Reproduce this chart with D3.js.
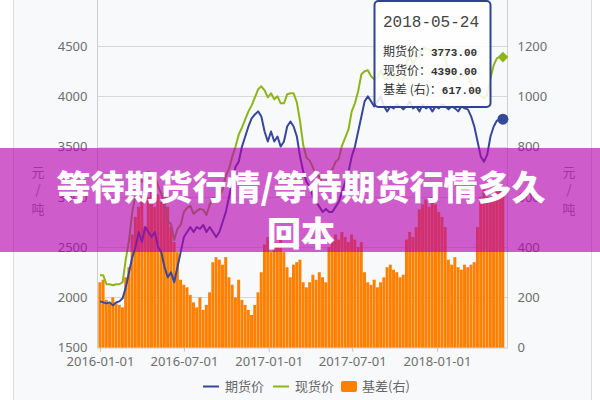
<!DOCTYPE html>
<html><head><meta charset="utf-8">
<script src="https://cdn.jsdelivr.net/npm/d3@7"></script>
<style>html,body{margin:0;padding:0;background:#fff;overflow:hidden}svg{display:block}</style>
</head><body>
<svg id="c" width="600" height="400"></svg>
<script>
const startDate = "2016-01-01";
const endDate = "2018-05-24";
const futures = [1960,1950,1940,1950,1920,1950,1960,1990,2100,2250,
2400,2500,2650,2550,2700,2650,2600,2650,2500,2450,
2300,2200,2250,2150,2300,2450,2600,2650,2700,2650,
2700,2680,2720,2650,2700,2650,2600,2650,2750,2850,
3000,3150,3300,3350,3500,3600,3700,3780,3820,3850,
3800,3650,3550,3650,3550,3600,3500,3550,3700,3750,
3700,3600,3400,3250,3150,3100,3000,2950,2900,2850,
2880,2850,2850,2900,2950,3050,3150,3250,3400,3500,
3650,3800,3950,4000,3950,3900,3950,4000,3900,3850,
3900,3880,3920,3900,3870,3900,3950,3880,3900,3850,
3920,3880,3900,3850,3900,3880,3920,3900,3870,3900,
3880,3850,3900,3880,3870,3800,3700,3550,3400,3350,
3420,3600,3700,3760,3760,3773];
const spot = [2220,2220,2130,2130,2120,2130,2130,2150,2380,2570,
2850,3020,3210,3150,3180,3250,3220,3210,3110,3030,
2920,2760,2730,2570,2680,2720,2850,2890,2910,2830,
2860,2880,2870,2820,2920,2990,2960,3000,3080,3210,
3280,3400,3500,3620,3690,3770,3850,3910,3990,4070,
4100,4060,3990,4030,3970,4000,3930,3930,4020,4030,
4030,3940,3750,3510,3390,3360,3290,3220,3200,3130,
3140,3250,3270,3350,3380,3510,3590,3670,3850,3930,
4050,4220,4250,4260,4200,4170,4190,4260,4180,4170,
4230,4190,4220,4180,4160,4330,4410,4320,4380,4400,
4490,4470,4460,4450,4470,4420,4440,4380,4220,4230,
4240,4170,4210,4210,4190,4130,4040,4030,4000,3980,
4020,4180,4310,4380,4390,4390];
const basis = [260,270,190,180,200,180,170,160,280,320,
450,520,560,600,480,600,620,560,610,580,
620,560,480,420,380,270,250,240,210,180,
160,200,150,170,220,340,360,350,330,360,
280,250,200,270,190,170,150,130,170,220,
300,410,440,380,420,400,430,380,320,280,
330,340,350,260,240,260,290,270,300,280,
260,400,420,450,430,460,440,420,450,430,
400,420,300,260,250,270,240,260,280,320,
330,310,300,280,290,430,460,440,480,550,
570,590,560,600,570,540,520,480,350,330,
360,320,310,330,320,330,340,480,600,630,
600,580,610,620,630,617];
const leftTicks = [1500,2000,2500,3000,3500,4000,4500,5000];
const rightTicks = [0,200,400,600,800,1000,1200,1400];
const dateTicks = ["2016-01-01","2016-07-01","2017-01-01","2017-07-01","2018-01-01"];
const seriesNames = ["期货价","现货价","基差(右)"];
const tooltipLabels = ["期货价：","现货价：","基差 (右)："];
const unitLabel = ["元","/","吨"];
const bannerLines = ["等待期货行情/等待期货行情多久","回本"];

const BLUE = "#36489c", GREEN = "#8db51a", ORANGE = "#ff7f00";
const FONT = "'Noto Sans','Noto Sans CJK SC',sans-serif";
const CJK = "'Noto Sans CJK SC','Noto Sans',sans-serif";

const parse = d3.timeParse("%Y-%m-%d");
const dates = d3.timeDay.range(parse(startDate), parse(endDate), 7);
dates.push(parse(endDate));

const svg = d3.select("#c");
const L = 97.5, R = 507.5;
const x = d3.scaleTime().domain([parse("2016-01-01"), parse("2018-01-01")]).range([100, 437]);
const yL = d3.scaleLinear().domain([1500, 5000]).range([347.6, -4.2]);
const yR = d3.scaleLinear().domain([0, 1400]).range([347.6, -4.2]);

// container
svg.append("rect").attr("x", 13.5).attr("y", -5).attr("width", 578).attr("height", 410)
  .attr("fill", "#f8f9fb").attr("stroke", "#dcdcdc");

// grid
svg.append("g").selectAll("line").data(leftTicks.slice(1)).join("line")
  .attr("x1", L).attr("x2", R).attr("y1", d => Math.round(yL(d)) + 0.5).attr("y2", d => Math.round(yL(d)) + 0.5)
  .attr("stroke", "#d8d8d8");
svg.append("line").attr("x1", L).attr("x2", L).attr("y1", -5).attr("y2", 348).attr("stroke", "#cfcfcf");
svg.append("line").attr("x1", R).attr("x2", R).attr("y1", -5).attr("y2", 348).attr("stroke", "#cfcfcf");

// axes
const gl = svg.append("g").attr("transform", `translate(${L},0)`)
  .call(d3.axisLeft(yL).tickValues(leftTicks).tickFormat(d3.format("d")).tickSize(0).tickPadding(10));
const gr = svg.append("g").attr("transform", `translate(${R},0)`)
  .call(d3.axisRight(yR).tickValues(rightTicks).tickFormat(d3.format("d")).tickSize(0).tickPadding(10));
const gb = svg.append("g").attr("transform", `translate(0,347.6)`)
  .call(d3.axisBottom(x).tickValues(dateTicks.map(parse)).tickFormat(d3.timeFormat("%Y-%m-%d")).tickSize(4).tickPadding(5));
[gl, gr, gb].forEach(g => {
  g.select(".domain").remove();
  g.selectAll("text").attr("fill", "#6e6e6e").style("font-family", FONT).style("font-size", "13px");
});
gb.selectAll("line").attr("stroke", "#b9c6da");
svg.append("line").attr("x1", L).attr("x2", R).attr("y1", 348).attr("y2", 348).attr("stroke", "#c3ccd9");

// unit labels
[38, 569].forEach(cx => {
  svg.append("g").selectAll("text").data(unitLabel).join("text")
    .attr("x", cx).attr("y", (d, i) => [177, 194, 214][i]).attr("text-anchor", "middle")
    .attr("fill", "#8a8a8a").style("font-family", CJK).style("font-size", "13px").text(d => d);
});

// bars
const bw = x(dates[1]) - x(dates[0]);
svg.append("g").selectAll("rect").data(basis).join("rect")
  .attr("x", (d, i) => x(dates[i]) - bw / 2).attr("width", bw * 0.92)
  .attr("y", d => yR(d)).attr("height", d => yR(0) - yR(d))
  .attr("fill", ORANGE);

// lines
const line = d3.line().x((d, i) => x(dates[i])).y(d => yL(d));
svg.append("path").datum(spot).attr("d", line).attr("fill", "none")
  .attr("stroke", GREEN).attr("stroke-width", 2).attr("stroke-linejoin", "round");
svg.append("path").datum(futures).attr("d", line).attr("fill", "none")
  .attr("stroke", BLUE).attr("stroke-width", 2).attr("stroke-linejoin", "round");

// end markers
const n = dates.length - 1;
svg.append("path").attr("d", d3.symbol(d3.symbolSquare, 58)())
  .attr("transform", `translate(${x(dates[n])},${yL(spot[n])}) rotate(45)`).attr("fill", GREEN);
svg.append("circle").attr("cx", x(dates[n])).attr("cy", yL(futures[n])).attr("r", 5.5).attr("fill", BLUE);

// tooltip
const tt = svg.append("g");
tt.append("rect").attr("x", 374.5).attr("y", 1).attr("width", 116).attr("height", 106).attr("rx", 4)
  .attr("fill", "rgba(255,255,255,0.86)").attr("stroke", "#2f4294").attr("stroke-width", 2);
tt.append("text").attr("x", 383).attr("y", 26.5).attr("fill", "#444")
  .style("font-family", "'Liberation Mono',monospace").style("font-size", "16px").text(endDate);
const vals = [futures[n], spot[n], basis[n]];
tooltipLabels.forEach((lab, i) => {
  const t = tt.append("text").attr("x", 383).attr("y", 56 + i * 19).attr("fill", "#333");
  t.append("tspan").style("font-family", CJK).style("font-size", "12px").text(lab);
  t.append("tspan").style("font-family", "'Liberation Mono',monospace").style("font-size", "11px")
    .style("font-weight", "bold").text(vals[i].toFixed(2));
});

// legend
const lg = svg.append("g").style("font-family", CJK).style("font-size", "13px");
[[203, BLUE], [273, GREEN]].forEach(([lx, c], i) => {
  lg.append("line").attr("x1", lx).attr("x2", lx + 16).attr("y1", 386.5).attr("y2", 386.5).attr("stroke", c).attr("stroke-width", 2);
  lg.append("text").attr("x", lx + 22).attr("y", 391).attr("fill", "#666").text(seriesNames[i]);
});
lg.append("rect").attr("x", 341).attr("y", 381).attr("width", 16).attr("height", 11).attr("rx", 2).attr("fill", ORANGE);
lg.append("text").attr("x", 362).attr("y", 391).attr("fill", "#666").text(seriesNames[2]);

// banner overlay
svg.append("rect").attr("x", 0).attr("y", 148).attr("width", 600).attr("height", 104)
  .attr("fill", "rgb(180,2,175)").attr("fill-opacity", 0.63);
svg.append("g").selectAll("text").data(bannerLines).join("text")
  .attr("x", 301).attr("y", (d, i) => 200 + i * 46).attr("text-anchor", "middle")
  .attr("fill", "#fff").style("font-family", CJK).style("font-size", "34px").style("font-weight", 900)
  .text(d => d);
</script>
</body></html>
